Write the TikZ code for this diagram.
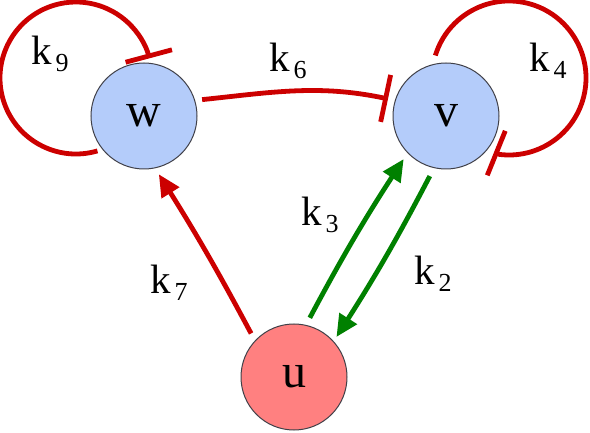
\documentclass[tikz,border=0pt]{standalone}
\usepackage{fontspec}
\setmainfont{Liberation Serif}
\usetikzlibrary{arrows.meta,calc}
\definecolor{inhred}{RGB}{204,0,0}
\definecolor{actgreen}{RGB}{0,128,0}
\definecolor{nodeblue}{RGB}{180,204,250}
\definecolor{nodered}{RGB}{255,128,128}
\definecolor{rim}{RGB}{64,64,72}
\newcommand{\klab}[1]{k\kern4pt\raisebox{-7pt}{\fontsize{26pt}{26pt}\selectfont #1}}
\begin{document}
\begin{tikzpicture}[x=1pt,y=1pt,
  species/.style={circle, draw=rim, line width=1pt, minimum size=106pt, inner sep=0pt,
    font=\fontsize{48pt}{48pt}\selectfont},
  inh/.style={draw=inhred, line width=4.8pt, -{Bar[width=48pt]}},
  inhred line/.style={draw=inhred, line width=4.8pt, -{Triangle[length=22pt,width=20pt]}},
  act/.style={draw=actgreen, line width=4.8pt, -{Triangle[length=22pt,width=20pt]}},
  lab/.style={anchor=base west, inner sep=0pt, font=\fontsize{41pt}{41pt}\selectfont}]
\useasboundingbox (0,0) rectangle (590,432);
\node[species, fill=nodeblue] (w) at (144,316) {w};
\node[species, fill=nodeblue] (v) at (446,316) {v};
\node[species, fill=nodered] (u) at (294,55) {u};
% self loops
\draw[inh] ($(w)+(-68,38)+(-73.6:76)$) arc[start angle=-73.6, end angle=-345, radius=76pt];
\draw[inh] ($(v)+(63,38)+(163:77)$) arc[start angle=163, end angle=-97, radius=77pt] -- ++(158:6);
% w -| v
\draw[inh, shorten <=7pt, shorten >=7pt] (w.17) to[out=6, in=168] (v.163);
% u -> w
\draw[inhred line, shorten <=8pt, shorten >=7pt] (u.137) to[bend right=2] (w.282);
% u -> v and v -> u
\draw[act, shorten <=8pt, shorten >=7pt] (u.77) to[bend left=2.5] (v.224);
\draw[act, shorten <=9pt, shorten >=5pt] (v.257) to[bend left=2.5] (u.42);
% labels
\node[lab] (l9) at (31,367) {\klab{9}};
\node[lab] (l6) at (269,360) {\klab{6}};
\node[lab] (l4) at (529,360) {\klab{4}};
\node[lab] (l3) at (301,206) {\klab{3}};
\node[lab] (l2) at (414,147) {\klab{2}};
\node[lab] (l7) at (150,139) {\klab{7}};
\end{tikzpicture}
\end{document}
